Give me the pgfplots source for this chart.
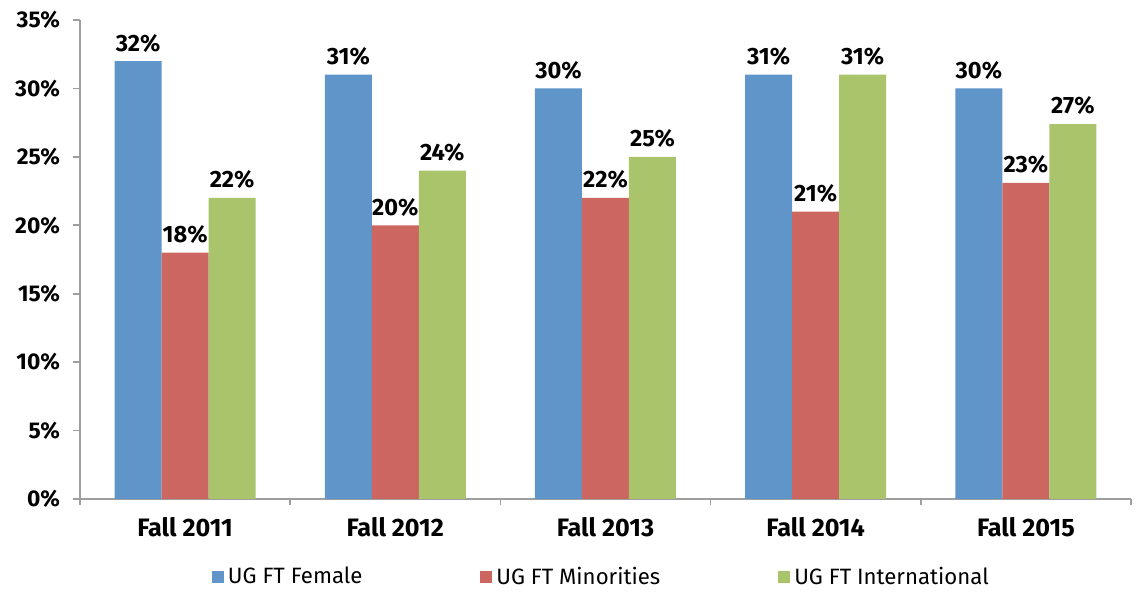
\documentclass[border=0pt]{standalone}
\usepackage{pgfplots}
\pgfplotsset{compat=1.18}
\usepackage{fontspec}
\setmainfont{Fira Sans}
\definecolor{cblue}{HTML}{5F95C8}
\definecolor{cred}{HTML}{CC6660}
\definecolor{cgreen}{HTML}{A9C46B}
\definecolor{axgray}{HTML}{9E9E9E}
\pgfplotstableread{
x female minor intl
0 32 18 22
1 31 20 24
2 30 22 25
3 31 21 31
4 30 23.1 27.4
}\data
\begin{document}
\begin{tikzpicture}[x=1pt,y=1pt]
\begin{axis}[
  at={(0,0)}, anchor=south west,
  scale only axis,
  width=525.5pt, height=239.5pt,
  ybar=0pt, bar width=23.5pt,
  xmin=-0.5, xmax=4.5,
  ymin=0, ymax=35,
  ytick={0,5,...,35},
  yticklabel={\pgfmathprintnumber{\tick}\%},
  xtick={0,1,2,3,4},
  xticklabels={Fall 2011,Fall 2012,Fall 2013,Fall 2014,Fall 2015},
  minor xtick={-0.5,0.5,1.5,2.5,3.5,4.5},
  /pgf/number format/assume math mode=true,
  axis x line*=bottom, axis y line*=left,
  axis line style={axgray, line width=0.8pt},
  x axis line style={-}, y axis line style={-},
  major x tick style={draw=none},
  minor x tick style={axgray, line width=0.8pt},
  y tick style={axgray, line width=0.8pt},
  tick align=outside,
  major tick length=3.5pt, minor tick length=3pt,
  yticklabel style={font=\fontsize{11.4}{13}\selectfont\bfseries, xshift=-3pt},
  xticklabel style={font=\fontsize{12.6}{15}\selectfont\bfseries, yshift=-2pt},
  nodes near coords={\pgfmathprintnumber[fixed,precision=0]{\pgfplotspointmeta}\%},
  every node near coord/.append style={font=\fontsize{11.8}{14}\selectfont\bfseries, text=black, yshift=1pt},
  legend columns=3,
  legend style={draw=none, at={(0.497,-0.163)}, anchor=center,
    font=\fontsize{11.1}{13}\selectfont, /tikz/every even column/.append style={column sep=57pt}},
  legend image code/.code={\fill[#1] (0pt,-3pt) rectangle (6pt,3pt);},
  clip=false,
]
\addplot[fill=cblue, draw=none] table[x=x,y=female]{\data};
\addplot[fill=cred, draw=none] table[x=x,y=minor]{\data};
\addplot[fill=cgreen, draw=none] table[x=x,y=intl]{\data};
\legend{UG FT Female, UG FT Minorities, UG FT International}
\end{axis}
\useasboundingbox (-40pt,-45pt) rectangle (528.5pt,249.5pt);
\end{tikzpicture}
\end{document}
